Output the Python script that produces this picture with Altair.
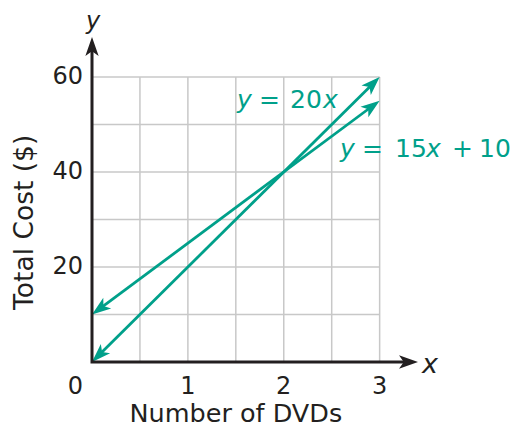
import math
import altair as alt
import pandas as pd

# ---------------- data ----------------
grid_x = [0.5, 1.0, 1.5, 2.0, 2.5, 3.0]
grid_y = [10, 20, 30, 40, 50, 60]
x_tick_vals = [1, 2, 3]
y_tick_vals = [20, 40, 60]
origin_label = "0"
line_x = [0, 3]
line_20x = [0, 60]       # y = 20x
line_15x10 = [10, 55]    # y = 15x + 10
x_title = "Number of DVDs"
y_title = "Total Cost ($)"
eq1_tokens = [("y", True), ("=", False), ("20", False), ("x", True)]
eq2_tokens = [("y", True), ("=", False), ("15", False), ("x", True), ("+", False), ("10", False)]

# ---------------- layout ----------------
X_MAX = 3.4
Y_MAX = 68.4
W = 326
H = 325
KX = W / X_MAX
KY = H / Y_MAX
TEAL = "#00A08A"
GRID = "#C8C8C8"
INK = "#231F20"
FONT = "DejaVu Sans"

xs = alt.Scale(domain=[0, X_MAX], nice=False, zero=False)
ys = alt.Scale(domain=[0, Y_MAX], nice=False, zero=False)


def X(f):
    return alt.X(f, type="quantitative", scale=xs, axis=None)


def Y(f):
    return alt.Y(f, type="quantitative", scale=ys, axis=None)


def shorten(x0, y0, x1, y1, px):
    dxp, dyp = (x1 - x0) * KX, (y1 - y0) * KY
    L = math.hypot(dxp, dyp)
    ux, uy = dxp / L, dyp / L
    return (x0 + ux * px / KX, y0 + uy * px / KY,
            x1 - ux * px / KX, y1 - uy * px / KY)


def ang(x0, y0, x1, y1):
    return math.degrees(math.atan2((x1 - x0) * KX, (y1 - y0) * KY)) % 360


# grid
gv = pd.DataFrame({"x": grid_x, "y0": 0, "y1": max(grid_y)})
gh = pd.DataFrame({"y": grid_y, "x0": 0, "x1": max(grid_x)})
grid_v = alt.Chart(gv).mark_rule(color=GRID, strokeWidth=1.5).encode(x=X("x"), y=Y("y0"), y2="y1")
grid_h = alt.Chart(gh).mark_rule(color=GRID, strokeWidth=1.5).encode(y=Y("y"), x=X("x0"), x2="x1")

# data lines with arrowheads at both ends
rows, heads = [], []
for name, yy in [("20x", line_20x), ("15x10", line_15x10)]:
    x0, y0, x1, y1 = line_x[0], yy[0], line_x[1], yy[1]
    a0, b0, a1, b1 = shorten(x0, y0, x1, y1, 6)
    rows += [{"s": name, "x": a0, "y": b0, "o": 0}, {"s": name, "x": a1, "y": b1, "o": 1}]
    heads += [{"x": x1, "y": y1, "a": ang(x0, y0, x1, y1)},
              {"x": x0, "y": y0, "a": ang(x1, y1, x0, y0)}]
ldf = pd.DataFrame(rows)
hdf = pd.DataFrame(heads)

ARROW = "M0,0 L0.7,2 L0,1.5 L-0.7,2 Z"
lines = alt.Chart(ldf).mark_line(color=TEAL, strokeWidth=2.8).encode(
    x=X("x"), y=Y("y"), detail="s:N", order="o:Q")
line_heads = alt.Chart(hdf).mark_point(
    shape=ARROW, filled=True, color=TEAL, size=361, opacity=1, strokeWidth=0).encode(
    x=X("x"), y=Y("y"), angle=alt.Angle("a:Q", scale=None))

# axes with arrows
sx = 6 / KX
sy = 6 / KY
adf = pd.DataFrame({"x": [0, 0, X_MAX - sx], "y": [Y_MAX - sy, 0, 0], "o": [0, 1, 2]})
axes = alt.Chart(adf).mark_line(color=INK, strokeWidth=3, strokeJoin="miter", strokeCap="butt").encode(
    x=X("x"), y=Y("y"), order="o:Q")
ahdf = pd.DataFrame({"x": [0, X_MAX], "y": [Y_MAX, 0], "a": [0, 90]})
axis_heads = alt.Chart(ahdf).mark_point(
    shape=ARROW, filled=True, color=INK, size=361, opacity=1, strokeWidth=0).encode(
    x=X("x"), y=Y("y"), angle=alt.Angle("a:Q", scale=None))

# tick labels
xt = pd.DataFrame({"x": x_tick_vals, "y": 0, "t": [str(v) for v in x_tick_vals]})
yt = pd.DataFrame({"x": 0, "y": y_tick_vals, "t": [str(v) for v in y_tick_vals]})
ot = pd.DataFrame({"x": [0], "y": [0], "t": [origin_label]})
tick_style = dict(font=FONT, fontSize=24, color=INK, baseline="middle")
x_lab = alt.Chart(xt).mark_text(align="center", dy=25, **tick_style).encode(x=X("x"), y=Y("y"), text="t:N")
y_lab = alt.Chart(yt).mark_text(align="right", dx=-9, **tick_style).encode(x=X("x"), y=Y("y"), text="t:N")
o_lab = alt.Chart(ot).mark_text(align="right", dx=-9, dy=25, **tick_style).encode(x=X("x"), y=Y("y"), text="t:N")

# axis titles
xtt = pd.DataFrame({"x": [1.5], "y": [0], "t": [x_title]})
ytt = pd.DataFrame({"x": [-67 / KX], "y": [29.4], "t": [y_title]})
x_ttl = alt.Chart(xtt).mark_text(font=FONT, fontSize=25.5, color=INK, baseline="middle", dy=52).encode(
    x=X("x"), y=Y("y"), text="t:N")
y_ttl = alt.Chart(ytt).mark_text(font=FONT, fontSize=26.5, color=INK, baseline="middle", angle=270).encode(
    x=X("x"), y=Y("y"), text="t:N")

# axis variable letters
vdf = pd.DataFrame({"x": [0, X_MAX], "y": [Y_MAX, 0], "t": ["y", "x"]})
y_var = alt.Chart(vdf.iloc[[0]]).mark_text(font=FONT, fontSize=24, fontStyle="italic", color=INK,
                                            align="center", baseline="alphabetic", dx=1, dy=-8).encode(
    x=X("x"), y=Y("y"), text="t:N")
x_var = alt.Chart(vdf.iloc[[1]]).mark_text(font=FONT, fontSize=27, fontStyle="italic", color=INK,
                                            align="left", baseline="alphabetic", dx=4, dy=11).encode(
    x=X("x"), y=Y("y"), text="t:N")

# equation labels, token by token
eq1_x0 = (237 - 92) / KX
eq1_y0 = (362 - 108) / KY
eq1_dx = [0, 22, 53, 86]
eq2_x0 = (340 - 92) / KX
eq2_y0 = (362 - 157) / KY
eq2_dx = [0, 22, 55, 86, 112, 139]
tok = []
for toks, dxs, x0, y0 in [(eq1_tokens, eq1_dx, eq1_x0, eq1_y0), (eq2_tokens, eq2_dx, eq2_x0, eq2_y0)]:
    for (t, it), d in zip(toks, dxs):
        tok.append({"t": t, "it": it, "x": x0 + d / KX, "y": y0})
tdf = pd.DataFrame(tok)
eq_layers = []
for it in [True, False]:
    sub = tdf[tdf["it"] == it]
    eq_layers.append(
        alt.Chart(sub).mark_text(color=TEAL, font=FONT, fontSize=25,
                                 fontStyle="italic" if it else "normal",
                                 align="left", baseline="alphabetic").encode(
            x=X("x"), y=Y("y"), text="t:N"))

chart = alt.layer(
    grid_v, grid_h, lines, line_heads, *eq_layers, axes, axis_heads,
    x_lab, y_lab, o_lab, x_ttl, y_ttl, y_var, x_var,
).properties(
    width=W, height=H,
    autosize=alt.AutoSizeParams(type="none"),
    padding={"left": 84, "top": 29, "right": 95, "bottom": 66},
).configure_view(stroke=None)

chart.save("out.html", embed_options={"renderer": "svg", "actions": False})
